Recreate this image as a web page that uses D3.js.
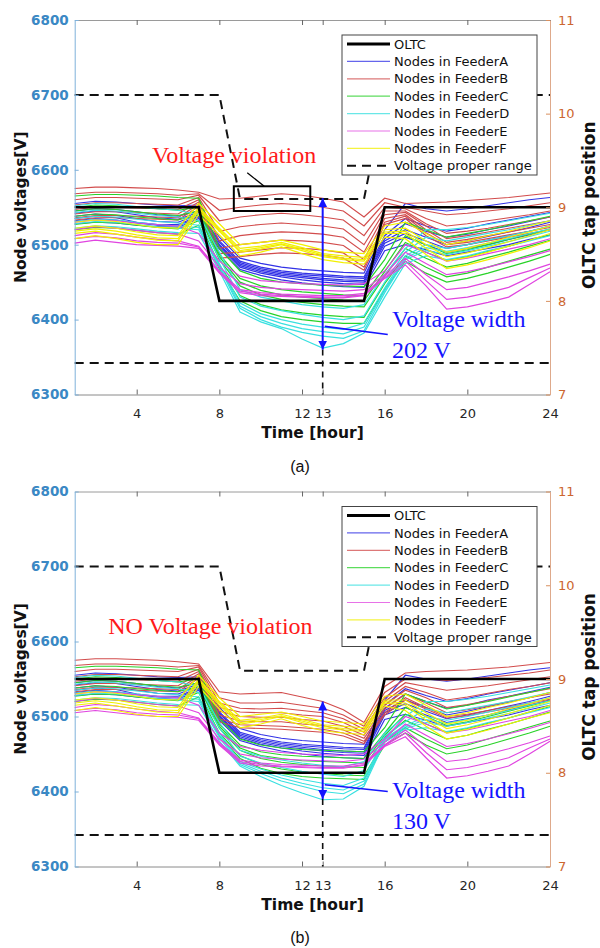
<!DOCTYPE html>
<html><head><meta charset="utf-8">
<script src="https://cdn.jsdelivr.net/npm/d3@7"></script>
<style>body{margin:0;background:#fff}svg{display:block}</style>
</head><body><svg id="c" width="600" height="948"></svg>
<script>
// ---------------- DATA ----------------
const hours = [1,2,3,4,5,6,7,8,9,10,11,12,13,14,15,16,17,18,19,20,21,22,23,24];
const xTicks = [4,8,12,13,16,20,24];
const yLeftTicks = [6300,6400,6500,6600,6700,6800];
const yRightTicks = [7,8,9,10,11];
const oltcTap = [9,9,9,9,9,9,9,8,8,8,8,8,8,8,8,9,9,9,9,9,9,9,9,9];
const rangeUpper = [6700,6700,6700,6700,6700,6700,6700,6700,6561,6561,6561,6561,6561,6561,6561,6700,6700,6700,6700,6700,6700,6700,6700,6700];
const rangeLower = [6342,6342,6342,6342,6342,6342,6342,6342,6342,6342,6342,6342,6342,6342,6342,6342,6342,6342,6342,6342,6342,6342,6342,6342];
const legendLabels = ["OLTC","Nodes in FeederA","Nodes in FeederB","Nodes in FeederC","Nodes in FeederD","Nodes in FeederE","Nodes in FeederF","Voltage proper range"];

// (a) without control
const feederA_a = [
[6555,6558,6557,6555,6553,6552,6553,6510,6482,6475,6470,6467,6465,6463,6462,6520,6555,6548,6545,6548,6552,6556,6560,6563],
[6545,6548,6547,6544,6540,6538,6545,6505,6478,6470,6465,6462,6460,6458,6457,6512,6535,6525,6518,6522,6528,6533,6538,6543],
[6542,6545,6544,6540,6536,6534,6543,6503,6476,6468,6463,6460,6458,6456,6455,6508,6528,6518,6510,6514,6520,6525,6531,6537],
[6538,6541,6539,6535,6531,6530,6540,6500,6474,6466,6461,6458,6455,6453,6452,6505,6520,6510,6500,6505,6511,6517,6523,6530],
[6535,6538,6536,6530,6527,6527,6538,6499,6472,6464,6459,6456,6453,6451,6450,6502,6515,6505,6495,6500,6506,6512,6518,6525],
[6532,6535,6533,6529,6526,6525,6537,6497,6470,6462,6457,6453,6450,6448,6447,6498,6510,6500,6490,6495,6500,6507,6513,6520],
[6528,6530,6529,6526,6524,6523,6535,6494,6467,6459,6453,6449,6446,6444,6443,6492,6500,6493,6485,6490,6495,6500,6507,6513]];
const feederB_a = [
[6575,6577,6577,6576,6575,6573,6570,6561,6562,6565,6568,6566,6562,6557,6537,6562,6555,6556,6557,6559,6561,6563,6566,6569],
[6568,6570,6570,6569,6568,6566,6568,6546,6550,6553,6555,6553,6550,6545,6525,6556,6550,6545,6540,6542,6545,6548,6552,6556],
[6560,6563,6563,6562,6561,6560,6566,6532,6537,6540,6542,6540,6537,6533,6512,6550,6548,6535,6525,6528,6532,6536,6540,6545],
[6553,6556,6556,6555,6554,6553,6563,6518,6524,6527,6529,6527,6525,6521,6500,6545,6545,6528,6515,6518,6522,6527,6532,6537],
[6547,6550,6550,6549,6548,6547,6560,6505,6512,6515,6517,6516,6514,6510,6490,6540,6543,6525,6508,6512,6517,6522,6527,6532],
[6541,6544,6544,6543,6542,6541,6557,6495,6500,6503,6506,6505,6503,6499,6480,6535,6540,6520,6503,6507,6512,6517,6522,6527],
[6536,6539,6539,6538,6537,6536,6554,6488,6490,6493,6496,6495,6493,6489,6470,6530,6538,6516,6500,6503,6508,6513,6518,6523],
[6533,6536,6536,6535,6534,6533,6551,6482,6484,6487,6489,6488,6486,6482,6466,6527,6535,6512,6497,6500,6505,6510,6515,6520]];
const feederC_a = [
[6565,6567,6567,6566,6565,6563,6562,6495,6465,6455,6450,6448,6446,6445,6444,6480,6530,6520,6510,6515,6520,6526,6532,6538],
[6550,6553,6552,6550,6548,6546,6550,6487,6455,6445,6440,6437,6435,6433,6432,6470,6512,6500,6488,6493,6500,6507,6514,6521],
[6545,6548,6547,6544,6541,6539,6545,6484,6450,6439,6433,6430,6428,6426,6425,6464,6503,6490,6479,6484,6491,6498,6506,6513],
[6538,6541,6540,6537,6535,6533,6540,6480,6445,6433,6427,6423,6420,6418,6417,6458,6495,6482,6470,6475,6483,6490,6498,6506],
[6527,6530,6529,6526,6523,6521,6532,6473,6432,6420,6413,6409,6406,6404,6403,6448,6485,6470,6457,6462,6470,6478,6486,6494],
[6520,6523,6522,6519,6516,6514,6526,6468,6425,6412,6404,6400,6397,6395,6395,6440,6478,6462,6450,6455,6462,6470,6478,6487]];
const feederD_a = [
[6552,6555,6554,6551,6548,6546,6540,6490,6440,6430,6425,6420,6417,6415,6420,6460,6495,6520,6520,6523,6527,6532,6537,6542],
[6543,6546,6545,6542,6539,6537,6532,6482,6430,6418,6412,6407,6403,6400,6405,6450,6490,6510,6505,6510,6515,6520,6526,6532],
[6535,6538,6537,6534,6531,6529,6526,6475,6422,6408,6400,6394,6390,6387,6395,6442,6485,6500,6495,6500,6506,6512,6518,6525],
[6531,6534,6533,6530,6527,6525,6523,6472,6418,6404,6395,6388,6384,6381,6390,6439,6482,6496,6491,6496,6502,6508,6515,6521],
[6528,6531,6530,6527,6524,6522,6520,6470,6415,6400,6390,6383,6378,6375,6385,6436,6480,6492,6487,6492,6498,6504,6511,6518],
[6522,6525,6524,6521,6518,6516,6515,6465,6410,6397,6388,6374,6362,6368,6382,6430,6475,6485,6480,6485,6492,6498,6505,6512]];
const feederE_a = [
[6530,6533,6532,6529,6527,6525,6515,6478,6458,6452,6450,6448,6447,6446,6448,6465,6500,6490,6478,6482,6488,6494,6500,6508],
[6520,6524,6522,6519,6516,6514,6505,6470,6448,6443,6441,6440,6439,6438,6440,6460,6490,6475,6460,6464,6470,6477,6484,6492],
[6512,6516,6514,6510,6507,6505,6498,6465,6440,6436,6434,6433,6432,6432,6435,6458,6482,6460,6440,6443,6450,6457,6465,6474],
[6508,6511,6509,6505,6503,6502,6497,6463,6438,6434,6432,6431,6430,6430,6433,6456,6478,6452,6427,6430,6436,6443,6456,6469],
[6502,6506,6503,6500,6499,6498,6495,6462,6436,6432,6431,6430,6429,6429,6432,6455,6473,6445,6414,6417,6423,6430,6447,6464]];
const feederF_a = [
[6530,6533,6531,6527,6523,6522,6555,6528,6500,6503,6506,6500,6493,6490,6488,6525,6530,6515,6500,6505,6512,6518,6525,6532],
[6522,6525,6522,6517,6513,6512,6550,6522,6495,6498,6503,6496,6488,6485,6483,6520,6522,6505,6490,6495,6502,6510,6517,6525],
[6518,6521,6518,6513,6509,6508,6548,6520,6492,6496,6501,6494,6486,6482,6480,6517,6518,6500,6484,6489,6496,6504,6512,6520],
[6515,6518,6514,6510,6506,6505,6545,6518,6490,6494,6500,6492,6484,6480,6478,6515,6515,6495,6478,6483,6490,6498,6506,6515],
[6508,6512,6508,6503,6500,6500,6540,6513,6485,6490,6497,6488,6480,6476,6474,6510,6508,6487,6468,6473,6480,6488,6496,6505]];

// (b) with control
const feederA_b = [
[6555,6558,6557,6555,6553,6552,6553,6512,6484,6476,6471,6468,6466,6464,6463,6522,6555,6550,6547,6550,6554,6558,6562,6565],
[6545,6548,6547,6544,6540,6538,6545,6506,6479,6471,6466,6463,6461,6459,6458,6515,6537,6528,6520,6524,6530,6535,6540,6545],
[6542,6545,6544,6540,6536,6534,6543,6504,6477,6469,6464,6461,6459,6457,6456,6511,6530,6520,6511,6515,6522,6527,6533,6539],
[6538,6541,6539,6535,6531,6530,6540,6501,6475,6467,6462,6459,6456,6454,6453,6508,6522,6512,6502,6507,6513,6519,6525,6532],
[6535,6538,6536,6530,6527,6527,6538,6500,6473,6465,6460,6457,6454,6452,6451,6505,6517,6507,6497,6502,6508,6514,6520,6527],
[6532,6535,6533,6529,6526,6525,6537,6498,6471,6463,6458,6454,6451,6449,6448,6502,6512,6502,6492,6497,6502,6509,6515,6522],
[6528,6530,6529,6526,6524,6523,6535,6495,6468,6460,6454,6450,6447,6445,6444,6496,6503,6495,6487,6492,6497,6502,6509,6515]];
const feederB_b = [
[6575,6577,6577,6576,6575,6573,6570,6533,6530,6531,6532,6526,6520,6509,6492,6540,6558,6560,6561,6562,6564,6566,6569,6572],
[6568,6570,6570,6569,6568,6566,6568,6525,6518,6518,6519,6515,6511,6502,6487,6532,6550,6550,6548,6550,6552,6555,6558,6562],
[6560,6563,6563,6562,6561,6560,6566,6518,6511,6510,6511,6508,6505,6497,6483,6525,6545,6540,6535,6538,6541,6545,6549,6553],
[6553,6556,6556,6555,6554,6553,6563,6512,6506,6505,6505,6502,6500,6492,6479,6520,6540,6532,6522,6526,6531,6536,6540,6545],
[6547,6550,6550,6549,6548,6547,6560,6507,6500,6499,6499,6496,6494,6487,6475,6515,6535,6525,6512,6516,6521,6527,6532,6537],
[6541,6544,6544,6543,6542,6541,6557,6502,6494,6493,6493,6490,6488,6482,6471,6510,6530,6518,6505,6509,6514,6520,6525,6530],
[6536,6539,6539,6538,6537,6536,6554,6497,6489,6488,6487,6485,6483,6478,6467,6505,6525,6512,6500,6503,6508,6513,6518,6523],
[6533,6536,6536,6535,6534,6533,6551,6493,6485,6484,6483,6481,6479,6474,6464,6502,6522,6510,6498,6501,6506,6511,6516,6521]];
const feederC_b = [
[6565,6567,6567,6566,6565,6563,6562,6497,6470,6462,6458,6456,6455,6454,6453,6485,6530,6520,6510,6515,6520,6526,6532,6538],
[6550,6553,6552,6550,6548,6546,6550,6490,6462,6453,6449,6447,6446,6445,6444,6478,6512,6500,6488,6493,6500,6507,6514,6521],
[6545,6548,6547,6544,6541,6539,6545,6487,6458,6448,6444,6441,6440,6439,6438,6475,6503,6490,6479,6484,6491,6498,6506,6513],
[6538,6541,6540,6537,6535,6533,6540,6484,6455,6444,6439,6436,6434,6433,6432,6472,6495,6482,6470,6475,6483,6490,6498,6506],
[6527,6530,6529,6526,6523,6521,6532,6478,6448,6436,6430,6426,6424,6422,6421,6466,6485,6470,6457,6462,6470,6478,6486,6494],
[6520,6523,6522,6519,6516,6514,6526,6474,6444,6431,6424,6420,6418,6417,6416,6462,6478,6462,6450,6455,6462,6470,6478,6487]];
const feederD_b = [
[6552,6555,6554,6551,6548,6546,6540,6492,6455,6447,6442,6438,6435,6433,6440,6478,6500,6520,6520,6523,6527,6532,6537,6542],
[6543,6546,6545,6542,6539,6537,6532,6485,6447,6438,6432,6427,6423,6420,6428,6474,6493,6510,6505,6510,6515,6520,6526,6532],
[6535,6538,6537,6534,6531,6529,6526,6478,6440,6430,6422,6416,6411,6408,6418,6471,6488,6500,6495,6500,6506,6512,6518,6525],
[6531,6534,6533,6530,6527,6525,6523,6475,6438,6427,6418,6411,6405,6402,6414,6470,6486,6496,6491,6496,6502,6508,6515,6521],
[6528,6531,6530,6527,6524,6522,6520,6472,6436,6424,6414,6407,6400,6397,6410,6469,6484,6492,6487,6492,6498,6504,6511,6518],
[6522,6525,6524,6521,6518,6516,6515,6467,6434,6420,6408,6398,6389,6390,6407,6466,6482,6485,6480,6485,6492,6498,6505,6512]];
const feederE_b = [
[6530,6533,6532,6529,6527,6525,6515,6478,6460,6455,6452,6450,6449,6448,6450,6470,6500,6490,6478,6482,6488,6494,6500,6508],
[6520,6524,6522,6519,6516,6514,6505,6470,6450,6445,6443,6442,6441,6440,6443,6466,6490,6475,6460,6464,6470,6477,6484,6492],
[6512,6516,6514,6510,6507,6505,6498,6465,6442,6438,6436,6435,6434,6434,6438,6462,6482,6460,6440,6443,6450,6457,6465,6474],
[6508,6511,6509,6505,6503,6502,6497,6463,6440,6436,6434,6433,6432,6432,6436,6461,6478,6452,6429,6432,6438,6445,6458,6470],
[6505,6508,6505,6502,6500,6499,6495,6462,6438,6434,6433,6432,6431,6431,6435,6460,6473,6445,6418,6421,6427,6434,6450,6467]];
const feederF_b = [
[6530,6533,6531,6527,6523,6522,6555,6525,6500,6503,6506,6500,6494,6492,6490,6527,6530,6515,6500,6505,6512,6518,6525,6532],
[6522,6525,6522,6517,6513,6512,6550,6520,6495,6498,6503,6496,6489,6487,6485,6522,6522,6505,6490,6495,6502,6510,6517,6525],
[6518,6521,6518,6513,6509,6508,6548,6518,6492,6496,6501,6494,6487,6484,6482,6520,6518,6500,6484,6489,6496,6504,6512,6520],
[6515,6518,6514,6510,6506,6505,6545,6515,6490,6494,6500,6492,6485,6482,6480,6518,6515,6495,6478,6483,6490,6498,6506,6515],
[6508,6512,6508,6503,6500,6500,6540,6510,6485,6490,6497,6488,6481,6478,6476,6514,6508,6487,6470,6475,6482,6490,6498,6505]];

const widthArrow_a = [6562, 6360];
const widthArrow_b = [6520, 6390];
const arrowHour = 13;

// ---------------- STYLE / LAYOUT ----------------
const feederColors = ["#3232e6","#d24c4c","#28d228","#38e0e0","#e044e0","#f2f000"];
const panels = [
  {key:"a", top:20, bottom:394.5, feeders:[feederA_a,feederB_a,feederC_a,feederD_a,feederE_a,feederF_a],
   arrow:widthArrow_a, title:"(a)", titleY:472,
   vText:"Voltage violation", vTextPos:[4.74,6609], box:[8.7,12.4,6578,6545], vLead:[9.35,6596,10.17,6578],
   wText:["Voltage width","202 V"], wPos:[16.35,6390,6349], wLead:[13.1,6391,16.15,6380]},
  {key:"b", top:491.5, bottom:866.5, feeders:[feederA_b,feederB_b,feederC_b,feederD_b,feederE_b,feederF_b],
   arrow:widthArrow_b, title:"(b)", titleY:943,
   vText:"NO Voltage violation", vTextPos:[2.62,6610], box:null, vLead:null,
   wText:["Voltage width","130 V"], wPos:[16.35,6391,6350], wLead:[13.1,6409,16.15,6400]}
];
const X0 = 74.7, X1 = 550;
const svg = d3.select("#c");
const defs = svg.append("defs");
defs.append("marker").attr("id","ah").attr("viewBox","0 0 10 10").attr("refX",10).attr("refY",5)
  .attr("markerWidth",9).attr("markerHeight",10).attr("markerUnits","userSpaceOnUse")
  .attr("orient","auto-start-reverse")
  .append("path").attr("d","M0,0L10,5L0,10Z").attr("fill","#1414ff");

const SANS = "DejaVu Sans, Liberation Sans, Arial, sans-serif";
const SERIF = "Liberation Serif, Times New Roman, serif";

panels.forEach(p => {
  const g = svg.append("g");
  const x = d3.scaleLinear().domain([1,24]).range([X0,X1]);
  const yL = d3.scaleLinear().domain([6300,6800]).range([p.bottom,p.top]);
  const yR = d3.scaleLinear().domain([7,11]).range([p.bottom,p.top]);
  const lineL = d3.line().x((d,i)=>x(hours[i])).y(d=>yL(d));
  const lineR = d3.line().x((d,i)=>x(hours[i])).y(d=>yR(d));

  // node lines
  p.feeders.forEach((rows,fi) => {
    rows.forEach(r => {
      g.append("path").attr("d",lineL(r)).attr("fill","none")
        .attr("stroke",feederColors[fi]).attr("stroke-width",1.2);
    });
  });
  // proper range
  [rangeUpper, rangeLower].forEach(r => {
    g.append("path").attr("d",lineL(r)).attr("fill","none").attr("stroke","#111")
      .attr("stroke-width",2).attr("stroke-dasharray","9,6");
  });
  // OLTC
  g.append("path").attr("d",lineR(oltcTap)).attr("fill","none").attr("stroke","#000").attr("stroke-width",2.6);

  // axes
  const gx = g.append("g").attr("transform",`translate(0,${p.bottom})`)
    .call(d3.axisBottom(x).tickValues(xTicks).tickSize(-5).tickSizeOuter(0).tickPadding(14));
  gx.attr("font-family",SANS).attr("font-size",13);
  gx.select(".domain").attr("stroke","#8a8a8a");
  gx.selectAll(".tick line").attr("stroke","#666");
  gx.selectAll(".tick text").attr("fill","#262626");
  const gt = g.append("g").attr("transform",`translate(0,${p.top})`)
    .call(d3.axisTop(x).tickValues(xTicks).tickSize(-5).tickSizeOuter(0).tickFormat(""));
  gt.select(".domain").attr("stroke","#9a9a9a");
  gt.selectAll(".tick line").attr("stroke","#666");
  const gl = g.append("g").attr("transform",`translate(${X0},0)`)
    .call(d3.axisLeft(yL).tickValues(yLeftTicks).tickSize(-4).tickSizeOuter(0).tickPadding(6).tickFormat(d3.format("d")));
  gl.attr("font-family",SANS).attr("font-size",13.5).attr("font-weight","bold");
  gl.select(".domain").attr("stroke","#7fb1da");
  gl.selectAll(".tick line").attr("stroke","#7fb1da");
  gl.selectAll(".tick text").attr("fill","#3a88c4");
  const gr = g.append("g").attr("transform",`translate(${X1},0)`)
    .call(d3.axisRight(yR).tickValues(yRightTicks).tickSize(-4).tickSizeOuter(0).tickPadding(8).tickFormat(d3.format("d")));
  gr.attr("font-family",SANS).attr("font-size",13);
  gr.select(".domain").attr("stroke","#dea98b");
  gr.selectAll(".tick line").attr("stroke","#d9905f");
  gr.selectAll(".tick text").attr("fill","#cc6630");

  // axis labels
  const cy = (p.top+p.bottom)/2;
  g.append("text").attr("transform",`translate(26,${cy}) rotate(-90)`).attr("text-anchor","middle")
    .attr("font-family",SANS).attr("font-weight","bold").attr("font-size",15.5).attr("fill","#111").text("Node voltages[V]");
  g.append("text").attr("transform",`translate(595,${cy-2}) rotate(-90)`).attr("text-anchor","middle")
    .attr("font-family",SANS).attr("font-weight","bold").attr("font-size",17).attr("fill","#111").text("OLTC tap position");
  g.append("text").attr("x",312.5).attr("y",p.bottom+43.5).attr("text-anchor","middle")
    .attr("font-family",SANS).attr("font-weight","bold").attr("font-size",15.5).attr("fill","#111").text("Time [hour]");
  svg.append("text").attr("x",300).attr("y",p.titleY).attr("text-anchor","middle")
    .attr("font-family","Liberation Sans, Arial, sans-serif").attr("font-size",16).attr("fill","#111").text(p.title);

  // legend
  const lg = g.append("g");
  lg.append("rect").attr("x",342).attr("y",p.top+15).attr("width",195).attr("height",140)
    .attr("fill","#fff").attr("stroke","#444").attr("stroke-width",1);
  legendLabels.forEach((lab,i) => {
    const yy = p.top + 24 + i*17.4;
    const ln = lg.append("line").attr("x1",347).attr("x2",390).attr("y1",yy).attr("y2",yy);
    if (i===0) ln.attr("stroke","#000").attr("stroke-width",3);
    else if (i===7) ln.attr("stroke","#111").attr("stroke-width",2).attr("stroke-dasharray","9,6");
    else ln.attr("stroke",feederColors[i-1]).attr("stroke-width",1.2).attr("opacity",0.75);
    lg.append("text").attr("x",394).attr("y",yy+4.6).attr("font-family",SANS).attr("font-size",13)
      .attr("fill","#111").text(lab);
  });

  // violation annotation
  g.append("text").attr("x",x(p.vTextPos[0])).attr("y",yL(p.vTextPos[1]))
    .attr("font-family",SERIF).attr("font-size",24).attr("fill","#ff1a1a").text(p.vText);
  if (p.box) {
    g.append("rect").attr("x",x(p.box[0])).attr("y",yL(p.box[2]))
      .attr("width",x(p.box[1])-x(p.box[0])).attr("height",yL(p.box[3])-yL(p.box[2]))
      .attr("fill","none").attr("stroke","#000").attr("stroke-width",2);
    g.append("line").attr("x1",x(p.vLead[0])).attr("y1",yL(p.vLead[1]))
      .attr("x2",x(p.vLead[2])).attr("y2",yL(p.vLead[3])).attr("stroke","#000").attr("stroke-width",1.3);
  }
  // width arrow
  const ax = x(arrowHour);
  g.append("line").attr("x1",ax).attr("x2",ax).attr("y1",yL(p.arrow[1])).attr("y2",p.bottom)
    .attr("stroke","#111").attr("stroke-width",1.6).attr("stroke-dasharray","6,5");
  g.append("line").attr("x1",ax).attr("x2",ax).attr("y1",yL(p.arrow[0])).attr("y2",yL(p.arrow[1]))
    .attr("stroke","#1414ff").attr("stroke-width",2)
    .attr("marker-start","url(#ah)").attr("marker-end","url(#ah)");
  g.append("line").attr("x1",x(p.wLead[0])).attr("y1",yL(p.wLead[1]))
    .attr("x2",x(p.wLead[2])).attr("y2",yL(p.wLead[3])).attr("stroke","#1414ff").attr("stroke-width",1.6);
  g.append("text").attr("x",x(p.wPos[0])).attr("y",yL(p.wPos[1]))
    .attr("font-family",SERIF).attr("font-size",24).attr("fill","#1414ff").text(p.wText[0]);
  g.append("text").attr("x",x(p.wPos[0])).attr("y",yL(p.wPos[2]))
    .attr("font-family",SERIF).attr("font-size",24).attr("fill","#1414ff").text(p.wText[1]);
});
</script></body></html>
